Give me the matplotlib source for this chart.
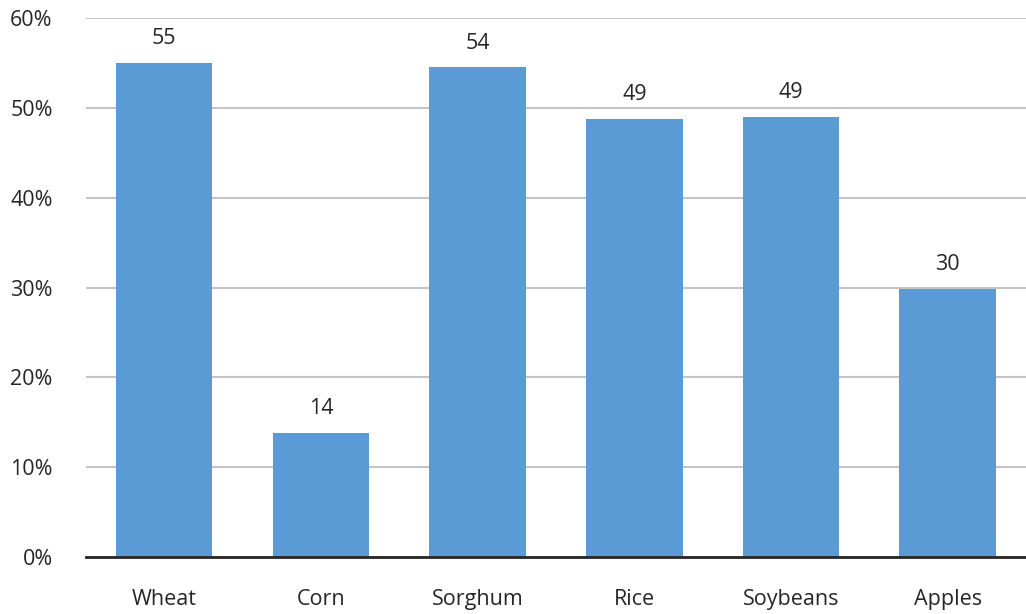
import matplotlib.pyplot as plt
from matplotlib.ticker import FuncFormatter

# crops and share values (%)
crops = ["Wheat", "Corn", "Sorghum", "Rice", "Soybeans", "Apples"]
shares = [55.0, 13.8, 54.5, 48.8, 49.0, 29.8]
labels = ["55", "14", "54", "49", "49", "30"]

plt.rcParams['font.family'] = ['Open Sans', 'DejaVu Sans']

fig = plt.figure(figsize=(10.26, 6.14), dpi=100)
ax = fig.add_axes([0.0838, 0.0928, 0.9162, 0.8779])

x = range(len(crops))
bars = ax.bar(x, shares, width=0.615, color="#5B9BD5", zorder=3)

# value labels above bars
for b, lab in zip(bars, labels):
    ax.annotate(lab, (b.get_x() + b.get_width() / 2, b.get_height()),
                xytext=(0, 10), textcoords="offset points",
                ha="center", va="bottom", fontsize=15.5, color="#262626")

ax.set_xlim(-0.5, len(crops) - 0.5)
ax.set_ylim(0, 60)
ax.set_yticks(range(0, 61, 10))
ax.yaxis.set_major_formatter(FuncFormatter(lambda v, p: f"{int(v)}%"))
ax.set_xticks(list(x))
ax.set_xticklabels(crops)

ax.grid(axis="y", color="#C4C4C4", linewidth=1.5, zorder=0)
for s in ["top", "right", "left"]:
    ax.spines[s].set_visible(False)
ax.spines["bottom"].set_color("#262626")
ax.spines["bottom"].set_linewidth(2)
ax.spines["bottom"].set_zorder(4)

ax.tick_params(axis="both", length=0, labelsize=15.5, colors="#262626")
ax.tick_params(axis="x", pad=23)
ax.tick_params(axis="y", pad=24)

fig.savefig("out.png", dpi=100)
